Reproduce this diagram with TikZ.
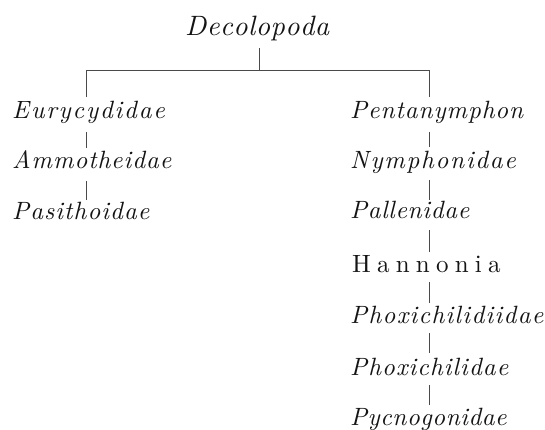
\documentclass[tikz,border=0pt]{standalone}
\usepackage{fontspec}
\setmainfont{lmroman10-regular.otf}[ItalicFont=lmroman10-italic.otf]
\definecolor{ink}{HTML}{141414}
\definecolor{rule}{HTML}{4A4A4A}
\ExplSyntaxOn
\NewDocumentCommand\tracked{mm}{\tl_map_inline:nn {#2} {##1\kern #1}}
\ExplSyntaxOff
\begin{document}
\begin{tikzpicture}[x=1pt,y=1pt,
  taxon/.style={anchor=base west, inner sep=0pt, text=ink,
    font=\fontsize{25}{30}\selectfont\itshape},
  root/.style={anchor=base west, inner sep=0pt, text=ink,
    font=\fontsize{28}{32}\selectfont\itshape},
  genus/.style={anchor=base west, inner sep=0pt, text=ink,
    font=\fontsize{25}{30}\selectfont\upshape},
  link/.style={draw=rule, line width=0.9pt}]
\useasboundingbox (0,0) rectangle (545,-429);
\node[root] (dec) at (185,-35) {\tracked{0.45pt}{Decolopoda}};
\node[taxon] (eury) at (12,-118) {\tracked{1.85pt}{Eurycydidae}};
\node[taxon] (ammo) at (12,-168) {\tracked{0.95pt}{Ammotheidae}};
\node[taxon] (pasi) at (12,-219) {\tracked{1.1pt}{Pasithoidae}};
\node[taxon] (pent) at (350,-118) {\tracked{0.95pt}{Pentanymphon}};
\node[taxon] (nymph) at (350,-168) {\tracked{1.75pt}{Nymphonidae}};
\node[taxon] (pall) at (350,-218) {\tracked{0.7pt}{Pallenidae}};
\node[genus] (hann) at (352,-272) {\tracked{6.2pt}{Hannonia}};
\node[taxon] (phoxa) at (350,-323) {\tracked{1.35pt}{Phoxichilidiidae}};
\node[taxon] (phoxb) at (350,-375) {\tracked{1.1pt}{Phoxichilidae}};
\node[taxon] (pycno) at (350,-425) {\tracked{0.55pt}{Pycnogonidae}};
\coordinate (T) at (259,-70);
\coordinate (L) at (86,0);
\coordinate (R) at (429,0);
% root
\draw[link] ([yshift=-13pt]T |- dec.base) -- (T);
\draw[link] (L |- T) -- (R |- T);
\draw[link] (L |- T) -- ([yshift=21pt]L |- eury.base);
\draw[link] (R |- T) -- ([yshift=21pt]R |- pent.base);
% left column
\draw[link] ([yshift=-14pt]L |- eury.base) -- ([yshift=20pt]L |- ammo.base);
\draw[link] ([yshift=-13pt]L |- ammo.base) -- ([yshift=19pt]L |- pasi.base);
% right column
\draw[link] ([yshift=-14pt]R |- pent.base) -- ([yshift=21pt]R |- nymph.base);
\draw[link] ([yshift=-12pt]R |- nymph.base) -- ([yshift=18pt]R |- pall.base);
\draw[link] ([yshift=-12pt]R |- pall.base) -- ([yshift=20pt]R |- hann.base);
\draw[link] ([yshift=-10pt]R |- hann.base) -- ([yshift=20pt]R |- phoxa.base);
\draw[link] ([yshift=-10pt]R |- phoxa.base) -- ([yshift=22pt]R |- phoxb.base);
\draw[link] ([yshift=-10pt]R |- phoxb.base) -- ([yshift=20pt]R |- pycno.base);
\end{tikzpicture}
\end{document}
